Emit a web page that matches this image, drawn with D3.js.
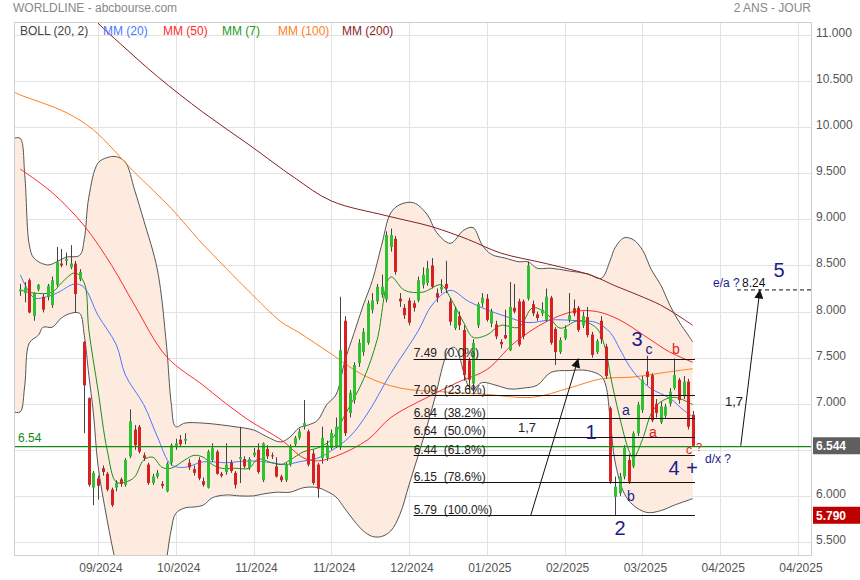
<!DOCTYPE html>
<html><head><meta charset="utf-8">
<script src="https://cdn.jsdelivr.net/npm/d3@7"></script>
<style>
html,body{margin:0;padding:0;background:#fff;}
svg{display:block;font-family:"Liberation Sans",Arial,sans-serif;}
</style></head><body>
<svg id="c" width="860" height="580"></svg>
<script>
// ---------- DATA ----------
const opens = [8.22,8.20,8.34,7.95,8.24,8.16,8.16,8.07,8.29,8.52,8.55,8.48,8.52,8.35,7.67,7.06,6.09,6.19,6.30,6.24,
6.07,6.09,6.18,6.12,6.43,6.72,6.75,6.44,6.34,6.14,6.21,6.13,6.05,6.36,6.53,6.61,6.60,6.36,6.29,6.39,
6.16,6.09,6.39,6.48,6.24,6.26,6.36,6.25,6.40,6.40,6.30,6.44,6.50,6.17,6.51,6.44,6.32,6.21,6.17,6.34,
6.56,6.63,6.75,6.70,6.46,6.34,6.41,6.41,6.52,6.53,6.53,7.90,6.90,7.04,7.44,7.56,7.66,8.02,8.11,8.18,
8.13,8.70,8.79,8.14,8.04,8.12,8.09,8.12,8.29,8.31,8.50,8.20,8.24,8.30,8.11,7.82,7.95,7.80,7.47,7.22,
7.85,8.09,8.14,7.87,7.86,7.67,7.745,7.58,8.04,8.11,8.11,8.14,8.08,7.97,7.98,7.91,8.15,7.81,7.56,7.71,
7.91,8.035,8.04,7.85,7.94,7.75,7.56,7.90,7.62,6.95,5.99,6.03,6.21,6.39,6.32,6.68,6.93,7.35,7.31,7.00,
6.80,6.87,7.00,7.17,7.26,7.08,7.24,6.88];
const highs = [8.30,8.32,8.36,8.21,8.30,8.19,8.30,8.38,8.70,8.68,8.64,8.72,8.55,8.46,7.68,7.07,6.27,6.22,6.33,6.26,
6.09,6.17,6.20,6.41,6.94,6.77,6.77,6.47,6.36,6.24,6.28,6.16,6.37,6.57,6.62,6.66,6.68,6.40,6.33,6.42,
6.20,6.50,6.57,6.50,6.26,6.57,6.39,6.27,6.75,6.43,6.42,6.52,6.57,6.58,6.55,6.47,6.42,6.23,6.36,6.56,
6.65,6.73,7.04,6.72,6.50,6.36,6.75,6.60,6.72,6.85,8.16,7.95,7.15,7.45,7.70,7.82,8.12,8.20,8.30,8.40,
8.87,8.90,8.82,8.20,8.08,8.15,8.12,8.38,8.48,8.55,8.58,8.25,8.35,8.55,8.15,8.05,8.00,7.85,7.50,7.70,
8.10,8.20,8.19,8.03,7.90,7.70,8.02,8.32,8.30,8.14,8.13,8.54,8.12,8.00,8.10,8.25,8.17,7.83,7.72,7.85,
8.20,8.13,8.06,8.00,8.05,7.78,7.70,7.95,7.65,6.97,6.21,6.25,6.55,6.45,6.70,7.02,7.30,7.52,7.33,7.05,
7.02,7.00,7.17,7.49,7.28,7.30,7.27,6.92];
const lows = [8.17,8.10,7.98,7.90,8.22,7.99,8.12,8.04,8.27,8.48,8.50,8.46,7.99,8.33,6.68,6.10,5.90,5.96,6.22,6.05,
5.88,6.05,6.10,6.10,6.41,6.50,6.46,6.38,6.12,6.12,6.19,6.08,6.04,6.33,6.50,6.53,6.56,6.28,6.22,6.17,
6.10,6.08,6.37,6.23,6.20,6.23,6.25,6.08,6.14,6.30,6.28,6.42,6.24,6.15,6.40,6.40,6.20,6.15,6.15,6.32,
6.54,6.61,6.72,6.32,6.12,5.98,6.35,6.38,6.50,6.52,6.50,6.65,6.85,7.00,7.40,7.52,7.64,7.98,8.08,8.15,
8.10,8.65,8.40,8.05,7.92,7.85,8.00,8.10,8.25,8.28,8.25,8.10,8.20,8.20,7.85,7.80,7.80,7.25,7.15,7.10,
7.82,8.05,7.89,7.83,7.70,7.60,7.70,7.57,7.98,7.62,7.70,8.12,7.95,7.90,7.95,7.89,7.64,7.42,7.54,7.69,
7.88,7.95,7.78,7.82,7.72,7.50,7.54,7.65,7.27,6.13,5.79,6.00,6.18,6.13,6.30,6.65,6.90,7.20,6.80,6.85,
6.78,6.84,6.97,7.15,7.00,7.05,6.72,6.54];
const closes = [8.24,8.26,7.99,8.20,8.29,8.02,8.28,8.34,8.54,8.50,8.57,8.52,8.19,8.43,7.20,6.12,6.25,6.11,6.26,6.07,
5.90,6.14,6.13,6.39,6.81,6.55,6.48,6.41,6.14,6.21,6.25,6.11,6.35,6.55,6.57,6.56,6.62,6.31,6.25,6.19,
6.12,6.48,6.52,6.24,6.22,6.34,6.27,6.12,6.42,6.32,6.40,6.47,6.26,6.57,6.43,6.43,6.21,6.17,6.34,6.54,
6.63,6.70,6.79,6.34,6.14,6.08,6.63,6.55,6.68,6.75,7.58,6.68,7.12,7.42,7.66,7.78,8.09,8.12,8.27,8.27,
8.83,8.83,8.43,8.11,7.96,7.88,8.04,8.34,8.40,8.47,8.27,8.15,8.27,8.25,7.89,8.02,7.85,7.31,7.26,7.66,
8.08,8.15,7.91,8.00,7.73,7.645,7.71,8.05,8.00,7.64,7.73,8.50,7.98,7.93,8.02,8.16,7.66,7.56,7.69,7.81,
7.96,7.98,7.80,7.95,7.745,7.53,7.68,7.70,7.30,6.155,6.10,6.21,6.52,6.155,6.68,6.99,7.26,7.29,6.82,6.90,
6.97,6.97,7.13,7.31,7.04,7.24,6.75,6.544];

// indicator readings: [bar, value]
const mm7 = [[0,8.234],[3,8.20],[7,8.21],[9,8.31],[12,8.42],[14,8.31],[15,7.80],[17,7.15],[19,6.50],[21,6.15],[23,6.15],
[25,6.205],[27,6.39],[29,6.42],[31,6.31],[33,6.30],[36,6.39],[38,6.44],[40,6.42],[42,6.34],[44,6.30],[47,6.30],[50,6.30],
[52,6.40],[55,6.36],[57,6.34],[59,6.39],[62,6.48],[65,6.52],[68,6.61],[71,6.88],[75,7.26],[78,7.69],[81,8.375],[84,8.23],
[88,8.21],[92,8.29],[94,8.15],[97,7.875],[99,7.72],[102,7.745],[105,7.85],[109,7.83],[112,8.04],[115,7.98],[118,7.82],
[122,7.90],[126,7.82],[128,7.58],[129,7.31],[131,6.86],[133,6.50],[134,6.41],[136,6.61],[138,6.90],[140,7.02],[143,7.07],[147,6.99]];
const mm20 = [[0,8.40],[3,8.15],[5,8.15],[8,8.20],[12,8.30],[14,8.26],[17,7.96],[21,7.64],[23,7.31],[27,6.99],[30,6.64],
[33,6.34],[36,6.31],[40,6.37],[45,6.36],[50,6.38],[55,6.36],[58,6.34],[61,6.37],[65,6.41],[68,6.49],[72,6.64],[76,6.90],
[81,7.33],[87,7.79],[90,8.07],[94,8.23],[98,8.11],[102,8.02],[106,7.95],[111,7.88],[116,7.91],[122,7.90],[126,7.88],
[129,7.77],[131,7.60],[133,7.42],[135,7.29],[138,7.16],[142,7.06],[145,6.93],[147,6.86]];
const mm50 = [[0,9.546],[7,9.29],[14,8.93],[20,8.50],[25,8.07],[32,7.51],[40,7.20],[44,7.04],[50,6.82],[57,6.61],[62,6.41],
[65,6.38],[69,6.43],[76,6.61],[81,6.85],[89,7.07],[96,7.24],[102,7.37],[108,7.66],[115,7.89],[121,8.00],[126,8.00],
[131,7.91],[137,7.72],[142,7.56],[147,7.45]];
const mm100 = [[-1.3,10.38],[0,10.35],[10,10.16],[16,9.97],[25,9.51],[33,9.12],[39,8.78],[45,8.47],[50,8.22],[57,7.89],
[61,7.77],[68,7.54],[75,7.31],[83,7.17],[92,7.13],[101,7.105],[112,7.07],[120,7.17],[127,7.27],[134,7.29],[141,7.34],[147,7.38]];
const mm200 = [[14,11.30],[17,11.13],[22,10.90],[30,10.55],[40,10.16],[50,9.81],[60,9.45],[68,9.20],[80,9.04],[90,8.92],
[98,8.78],[105,8.635],[115,8.52],[125,8.39],[130,8.28],[135,8.18],[140,8.07],[144,7.95],[147,7.85]];
const bollUpper = [[-1.3,9.88],[0,9.88],[1,9.48],[2,8.72],[3,8.58],[6,8.505],[8,8.54],[10,8.59],[13,8.61],[14,8.78],[15,9.24],
[17,9.61],[19,9.67],[21,9.68],[23,9.62],[25,9.32],[27,8.99],[30,8.45],[32,7.62],[33,7.01],[34,6.75],[36,6.79],[40,6.79],
[44,6.77],[47,6.75],[51,6.715],[54,6.64],[57,6.585],[59,6.64],[61,6.74],[63,6.77],[65,6.82],[67,6.99],[69,7.095],[71,7.47],
[73,7.77],[75,8.07],[77,8.34],[79,8.72],[81,9.07],[83,9.16],[86,9.18],[89,9.05],[91,8.86],[94,8.74],[97,8.885],[99,8.91],
[101,8.72],[103,8.62],[106,8.58],[109,8.54],[111,8.54],[113,8.47],[116,8.47],[120,8.44],[124,8.41],[127,8.36],[129,8.56],
[130,8.69],[132,8.80],[134,8.78],[136,8.67],[138,8.45],[140,8.29],[142,8.07],[144,7.89],[146,7.745],[147,7.67]];
const bollLower = [[-1.3,6.91],[0,6.91],[1,7.20],[2,7.66],[4,7.745],[5,7.83],[7,7.83],[9,7.93],[11,7.98],[13,7.98],[14,7.745],
[15,7.31],[16,6.90],[17,6.335],[19,5.74],[21,5.25],[23,4.87],[25,4.65],[27,4.60],[29,4.76],[31,5.03],[33,5.63],[34,5.81],
[36,5.87],[38,5.88],[40,5.90],[42,5.98],[45,6.01],[48,6.00],[51,6.00],[53,6.02],[56,6.04],[59,6.04],[62,6.09],[65,6.09],
[67,6.05],[69,5.99],[71,5.86],[73,5.73],[75,5.62],[77,5.56],[79,5.56],[81,5.62],[83,5.80],[85,6.12],[87,6.44],[89,6.77],
[91,7.13],[92,7.34],[93,7.51],[94,7.60],[95,7.61],[96,7.51],[97,7.33],[98,7.19],[99,7.16],[101,7.23],[104,7.20],[107,7.16],
[110,7.17],[113,7.20],[116,7.34],[120,7.36],[124,7.36],[127,7.30],[128,7.20],[129,6.81],[130,6.38],[132,6.03],[134,5.90],
[137,5.82],[140,5.84],[143,5.90],[147,5.97]];

const yTicks = [5.5,6,6.5,7,7.5,8,8.5,9,9.5,10,10.5,11];
const xTickBars = [17,34,51,68,85,102,119,136,153,170];
const xTickLabels = ["09/2024","10/2024","11/2024","11/2024","12/2024","01/2025","02/2025","03/2025","04/2025","04/2025"];
const fibLevels = [7.49,7.09,6.84,6.64,6.44,6.15,5.79];
const fibLabels = ["7.49  (0.0%)","7.09  (23.6%)","6.84  (38.2%)","6.64  (50.0%)","6.44  (61.8%)","6.15  (78.6%)","5.79  (100.0%)"];
const fibStartBar = 86, fibEndBar = 147.5;
const lastPrice = 6.544, lowPrice = 5.79, refLine = 6.54, target = 8.24;
const arrows = [[[111.6,5.79],[122.0,7.49]],[[157.5,6.544],[161.7,8.24]]];
const legend = [["BOLL (20, 2)","#444"],["MM (20)","#4a78ff"],["MM (50)","#ff2a2a"],["MM (7)","#1a9a1a"],["MM (100)","#ff8020"],["MM (200)","#8b1e1e"]];

// ---------- LAYOUT ----------
const L=14, R=811, T=22, B=555;
const svg = d3.select("#c");
const x = d3.scaleLinear().domain([0,147]).range([20.2,692.7]);
const y = d3.scaleLinear().domain([5.5,11]).range([542,35]);

svg.append("defs").append("clipPath").attr("id","clip").append("rect")
  .attr("x",L).attr("y",T).attr("width",R-L).attr("height",B-T);

// grid
const grid = svg.append("g");
grid.selectAll(".hg").data(yTicks).join("line")
  .attr("x1",L).attr("x2",R).attr("y1",d=>Math.round(y(d))+0.5).attr("y2",d=>Math.round(y(d))+0.5)
  .attr("stroke","#e2e2e2");
grid.selectAll(".vg").data(xTickBars).join("line")
  .attr("y1",T).attr("y2",B).attr("x1",d=>Math.round(x(d))+0.5).attr("x2",d=>Math.round(x(d))+0.5)
  .attr("stroke","#e2e2e2");

const plot = svg.append("g").attr("clip-path","url(#clip)");
const curve = d3.curveCatmullRom.alpha(0.5);
const line = d3.line().x(d=>x(d[0])).y(d=>y(d[1])).curve(curve);

// bollinger band
const upPath = line(bollUpper);
const loRev = line(bollLower.slice().reverse());
plot.append("path").attr("d", upPath + "L" + loRev.slice(1) + "Z")
  .attr("fill","#fdebe0").attr("stroke","none");
plot.append("path").attr("d",upPath).attr("fill","none").attr("stroke","#555").attr("stroke-width",1);
plot.append("path").attr("d",line(bollLower)).attr("fill","none").attr("stroke","#555").attr("stroke-width",1);
plot.append("line").attr("x1",x(bollUpper[0][0])).attr("x2",x(bollLower[0][0]))
  .attr("y1",y(bollUpper[0][1])).attr("y2",y(bollLower[0][1])).attr("stroke","#555");

// moving averages
const mas = [[mm200,"#8b1e1e"],[mm100,"#ff8020"],[mm50,"#ff2a2a"],[mm20,"#4a78ff"],[mm7,"#1a8f1a"]];
mas.forEach(([d,c])=>{
  plot.append("path").attr("d",line(d)).attr("fill","none").attr("stroke",c).attr("stroke-width",1);
});

// candles
const idx = d3.range(closes.length);
const cg = plot.append("g");
cg.selectAll(".w").data(idx).join("line")
  .attr("x1",i=>Math.round(x(i))+0.5).attr("x2",i=>Math.round(x(i))+0.5)
  .attr("y1",i=>y(highs[i])).attr("y2",i=>y(lows[i]))
  .attr("stroke","#444").attr("stroke-width",1);
cg.selectAll(".b").data(idx).join("rect")
  .attr("x",i=>Math.round(x(i))-1)
  .attr("width",3)
  .attr("y",i=>y(Math.max(opens[i],closes[i])))
  .attr("height",i=>Math.max(1,Math.abs(y(opens[i])-y(closes[i]))))
  .attr("fill",i=>closes[i]>=opens[i]?"#2fc12f":"#d92020");

// reference green line
plot.append("line").attr("x1",L).attr("x2",R).attr("y1",y(refLine)+0.5).attr("y2",y(refLine)+0.5)
  .attr("stroke","#138a13").attr("stroke-width",1.2);
svg.append("text").attr("x",18).attr("y",y(refLine)-4).attr("fill","#138a13")
  .attr("font-size",12).text(refLine.toFixed(2));

// fibonacci
const fg = svg.append("g");
fg.selectAll("line").data(fibLevels).join("line")
  .attr("x1",x(fibStartBar)).attr("x2",x(fibEndBar))
  .attr("y1",d=>Math.round(y(d))+0.5).attr("y2",d=>Math.round(y(d))+0.5)
  .attr("stroke","#111").attr("stroke-width",1);
fg.selectAll("text").data(fibLevels).join("text")
  .attr("x",x(fibStartBar)).attr("y",d=>y(d)-1.5)
  .attr("font-size",12).attr("fill","#222").style("white-space","pre")
  .text((d,i)=>fibLabels[i]);

// arrows
const defs = svg.select("defs");
defs.append("marker").attr("id","ah").attr("viewBox","0 0 10 10").attr("refX",10).attr("refY",5)
  .attr("markerWidth",11).attr("markerHeight",9).attr("markerUnits","userSpaceOnUse").attr("orient","auto")
  .append("path").attr("d","M0,0L10,5L0,10Z").attr("fill","#111");
arrows.forEach(a=>{
  svg.append("line").attr("x1",x(a[0][0])).attr("y1",y(a[0][1])).attr("x2",x(a[1][0])).attr("y2",y(a[1][1]))
    .attr("stroke","#111").attr("stroke-width",1).attr("marker-end","url(#ah)");
});
// target dashed
svg.append("line").attr("x1",737).attr("x2",R).attr("y1",y(target)+0.5).attr("y2",y(target)+0.5)
  .attr("stroke","#111").attr("stroke-dasharray","4,3");

// annotations
const navy="#1c1c8c", red="#e02020";
function t(xp,yp,s,size,col,anchor){svg.append("text").attr("x",xp).attr("y",yp).attr("font-size",size)
  .attr("fill",col).attr("text-anchor",anchor||"start").style("white-space","pre").text(s);}
t(518,432,"1,7",13,"#222");
t(725,406,"1,7",13,"#222");
t(713,287,"e/a ?",12,navy);
t(742,287,"8.24",12,"#111");
t(779,277,"5",20,navy,"middle");
t(591,439,"1",20,navy,"middle");
t(620,535,"2",20,navy,"middle");
t(637,346,"3",20,navy,"middle");
t(674,475,"4",20,navy,"middle");
t(692,475,"+",20,navy,"middle");
t(649,354,"c",14,navy,"middle");
t(676,354,"b",14,red,"middle");
t(626,415,"a",14,navy,"middle");
t(653,437,"a",14,red,"middle");
t(631,501,"b",14,navy,"middle");
t(689,454,"c",12,red,"middle");
t(696,451,"?",11,red);
t(705,463,"d/x ?",12,navy);

// border
svg.append("rect").attr("x",L+0.5).attr("y",T+0.5).attr("width",R-L).attr("height",B-T)
  .attr("fill","none").attr("stroke","#cfcfcf");

// axes labels
svg.selectAll(".yl").data(yTicks).join("text")
  .attr("x",816).attr("y",d=>y(d)+2).attr("font-size",12).attr("fill","#555")
  .text(d=>d3.format(".3f")(d));
svg.selectAll(".xl").data(xTickBars).join("text")
  .attr("x",d=>x(d)+3).attr("y",572).attr("font-size",12).attr("fill","#555").attr("text-anchor","middle")
  .text((d,i)=>xTickLabels[i]);

// price boxes
[[lastPrice,"#5f5f5f"],[lowPrice,"#c00000"]].forEach(([v,c])=>{
  svg.append("rect").attr("x",813).attr("y",y(v)-8.5).attr("width",47).attr("height",17).attr("fill",c);
  svg.append("text").attr("x",816).attr("y",y(v)+4.5).attr("font-size",12).attr("font-weight","bold")
    .attr("fill","#fff").text(d3.format(".3f")(v));
});

// titles and legend
t(13,12,"WORLDLINE - abcbourse.com",12,"#888");
t(811,12,"2 ANS - JOUR",12,"#888","end");
const lgX = [20,103,163,222,278,342];
legend.forEach(([s,c],i)=>t(lgX[i],35,s,12,c));
</script>
</body></html>
